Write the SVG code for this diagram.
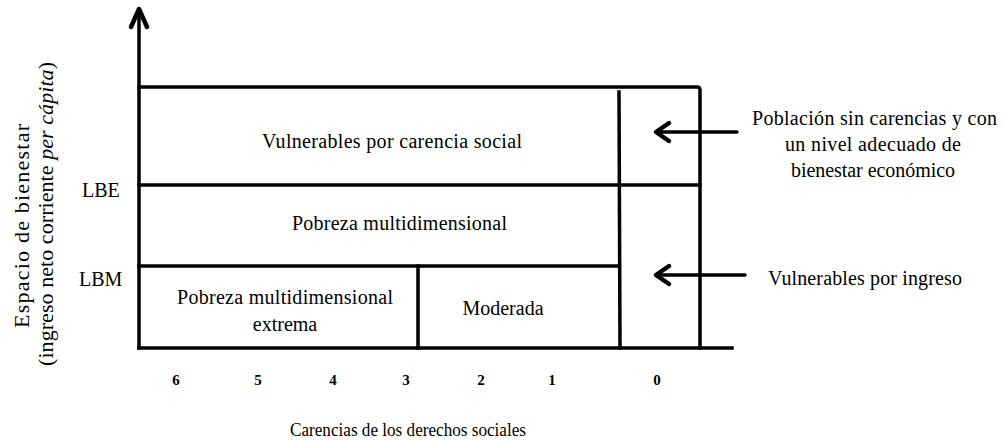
<svg xmlns="http://www.w3.org/2000/svg" width="1003" height="440" viewBox="0 0 1003 440">
<style>
  .ln { stroke:#000; stroke-width:3.5; fill:none; stroke-linecap:square; }
  .ar { stroke:#000; stroke-width:3.5; fill:none; stroke-linecap:round; stroke-linejoin:round; }
  .hd { stroke:#000; stroke-width:4.5; fill:none; stroke-linecap:round; stroke-linejoin:round; }
  text { font-family:"Liberation Serif","DejaVu Serif",serif; fill:#000; }
  .t { font-size:20px; }
  .n { font-size:15px; font-weight:bold; text-anchor:middle; }
  .c { text-anchor:middle; }
</style>
<rect width="1003" height="440" fill="#fff"/>
<g id="axes">
  <line class="ln" x1="139" y1="12" x2="139" y2="348"/>
  <line class="ln" x1="139" y1="348" x2="732" y2="348"/>
  <polyline class="hd" points="131,27 139,9 147,27"/>
</g>
<g id="grid">
  <path class="ln" d="M139,87 H697 Q700,87 700,90 V348"/>
  <line class="ln" x1="139" y1="185" x2="700" y2="185"/>
  <line class="ln" x1="139" y1="266" x2="619" y2="266"/>
  <line class="ln" x1="619" y1="92" x2="620" y2="348"/>
  <line class="ln" x1="418" y1="266" x2="418" y2="348"/>
</g>
<g id="vulnerables-carencia">
  <text class="t" x="262" y="148" textLength="260" lengthAdjust="spacing">Vulnerables por carencia social</text>
</g>
<g id="pobreza-multidimensional">
  <text class="t" x="292" y="230" textLength="215" lengthAdjust="spacing">Pobreza multidimensional</text>
</g>
<g id="pobreza-extrema">
  <text class="t" x="177" y="304" textLength="216" lengthAdjust="spacing">Pobreza multidimensional</text>
  <text class="t c" x="285" y="331">extrema</text>
</g>
<g id="moderada">
  <text class="t c" x="503" y="315">Moderada</text>
</g>
<g id="lbe"><text class="t" x="82" y="197">LBE</text></g>
<g id="lbm"><text class="t" x="79" y="286">LBM</text></g>
<g id="y-label">
  <text class="t c" transform="translate(29,226) rotate(-90)" style="font-size:22px" textLength="204" lengthAdjust="spacing">Espacio de bienestar</text>
  <text class="t c" transform="translate(53,214) rotate(-90)" style="font-size:22px" textLength="304" lengthAdjust="spacing">(ingreso neto corriente <tspan font-style="italic">per cápita</tspan>)</text>
</g>
<g id="x-ticks">
  <text class="n" x="176" y="385">6</text>
  <text class="n" x="258" y="385">5</text>
  <text class="n" x="333" y="385">4</text>
  <text class="n" x="406" y="385">3</text>
  <text class="n" x="481" y="385">2</text>
  <text class="n" x="552" y="385">1</text>
  <text class="n" x="657" y="385">0</text>
</g>
<g id="x-label">
  <text class="t c" x="408" y="436" style="font-size:19px" textLength="236" lengthAdjust="spacingAndGlyphs">Carencias de los derechos sociales</text>
</g>
<g id="sin-carencias">
  <text class="t" x="752" y="125" textLength="245" lengthAdjust="spacing">Población sin carencias y con</text>
  <text class="t" x="785" y="151" textLength="176" lengthAdjust="spacing">un nivel adecuado de</text>
  <text class="t" x="791" y="177" textLength="164" lengthAdjust="spacing">bienestar económico</text>
</g>
<g id="vulnerables-ingreso">
  <text class="t" x="768" y="285" textLength="194" lengthAdjust="spacing">Vulnerables por ingreso</text>
</g>
<g id="connectors">
  <line class="ar" x1="737" y1="132" x2="657" y2="132"/>
  <polyline class="hd" points="669,123 656,132 669,141"/>
  <line class="ar" x1="745" y1="275" x2="657" y2="275"/>
  <polyline class="hd" points="669,266 656,275 669,284"/>
</g>
</svg>
